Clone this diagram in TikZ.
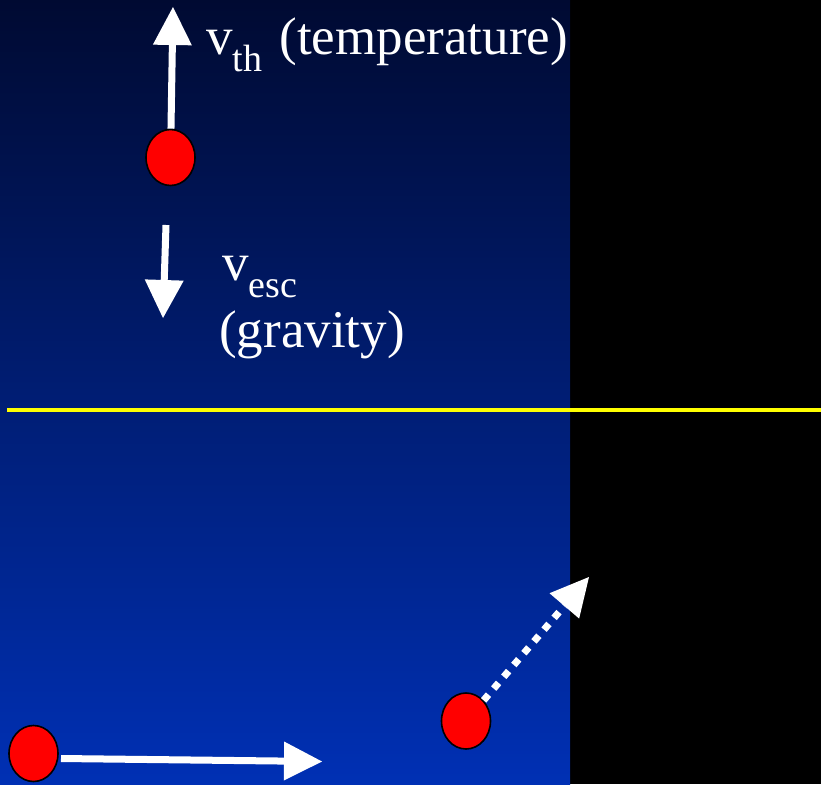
\documentclass[tikz,border=0pt]{standalone}
\usepackage{fontspec}
\setmainfont{Liberation Serif}
\usetikzlibrary{arrows.meta,shapes.geometric}
\definecolor{skytop}{RGB}{0,10,50}
\definecolor{skymid}{RGB}{0,31,126}
\definecolor{skybot}{RGB}{0,48,180}
\definecolor{ballred}{RGB}{255,0,0}
\definecolor{rim}{RGB}{255,255,0}
\tikzset{
  ball/.style={ellipse, draw=black, line width=1.6pt, fill=ballred, minimum width=49pt, minimum height=56pt, inner sep=0pt},
  vel/.style={draw=white, line width=7pt, -{Triangle[length=38pt,width=39pt,line width=0pt]}},
  veldash/.style={vel, dash pattern=on 7.5pt off 8pt},
  lbl/.style={text=white, inner sep=0pt, anchor=base west, font=\fontsize{53}{67}\selectfont},
}
\newcommand{\lowsub}[1]{\raisebox{-17pt}{\fontsize{38}{38}\selectfont #1}}
\begin{document}
\begin{tikzpicture}[x=1pt,y=-1pt]
\useasboundingbox (0,0) rectangle (821,784);
\fill[black] (0,0) rectangle (821,784);
\shade[top color=skytop, middle color=skymid, bottom color=skybot] (0,0) rectangle (570,784);
\draw[rim, line width=4pt] (7,410) coordinate (r0) -- (821,410) coordinate (r1);

\node[ball] (b1) at (170.5,157.5) {};
\coordinate (t1) at (173,7);
\draw[vel] (b1) -- (t1);
\node[lbl] (vth) at (206,55) {v\lowsub{th}\hspace{4pt} (temperature)};

\coordinate (d0) at (166,225);
\coordinate (d1) at (163,318);
\draw[vel] (d0) -- (d1);
\node[lbl] (vesc) at (222,280) {v\lowsub{esc}};
\node[lbl] (grav) at (219,347) {(gravity)};

\node[ball] (b3) at (33.5,753.5) {};
\coordinate (s3) at (61,758.5);
\coordinate (t3) at (322,761.5);
\draw[vel] (s3) -- (t3);

\node[ball] (b4) at (466,721) {};
\coordinate (t4) at (589,577);
\draw[veldash] (b4) -- (t4);
\end{tikzpicture}
\end{document}
